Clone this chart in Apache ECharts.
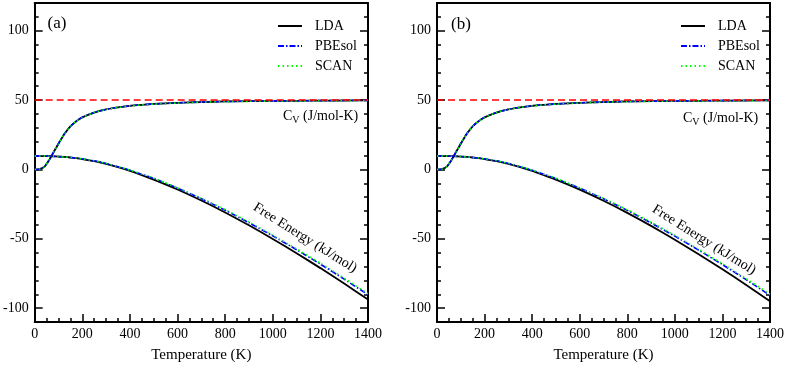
<!DOCTYPE html>
<html>
<head>
<meta charset="utf-8">
<script src="https://cdn.jsdelivr.net/npm/echarts@6/dist/echarts.min.js"></script>
<style>
  html, body { margin: 0; padding: 0; background: #fff; }
  #chart { width: 789px; height: 371px; }
</style>
</head>
<body>
<div id="chart"></div>
<script>
/* Cv and free energy vs temperature, panels (a) and (b) */
var temps = [0, 20, 40, 60, 80, 100, 125, 150, 175, 200, 250, 300, 350, 400, 450, 500,
             600, 700, 800, 900, 1000, 1100, 1200, 1300, 1400];

var cvLDA    = [0, 0.2, 1.8, 6.5, 12.5, 18.5, 25.5, 31.0, 34.8, 37.5, 41.0, 43.3, 44.8, 45.9, 46.6, 47.2,
                48.0, 48.6, 49.0, 49.2, 49.4, 49.5, 49.6, 49.7, 49.8];
var cvPBEsol = [0, 0.2, 1.9, 6.7, 12.7, 18.7, 25.7, 31.1, 34.9, 37.6, 41.1, 43.3, 44.8, 45.9, 46.6, 47.2,
                48.0, 48.6, 49.0, 49.2, 49.4, 49.5, 49.6, 49.7, 49.8];
var cvSCAN   = [0, 0.2, 1.9, 6.6, 12.6, 18.6, 25.6, 31.0, 34.8, 37.5, 41.0, 43.2, 44.7, 45.8, 46.5, 47.1,
                47.9, 48.5, 48.9, 49.1, 49.3, 49.4, 49.5, 49.6, 49.7];

var feLDA_a    = [9.6, 9.6, 9.6, 9.55, 9.45, 9.3, 9.0, 8.6, 8.1, 7.5, 6.0, 4.0, 1.6, -1.1, -4.1, -7.3,
                  -14.45, -22.4, -31.0, -40.3, -50.1, -60.4, -71.15, -82.3, -93.85];
var fePBEsol_a = [9.6, 9.6, 9.6, 9.55, 9.45, 9.3, 9.0, 8.65, 8.15, 7.6, 6.2, 4.3, 2.0, -0.6, -3.5, -6.5,
                  -13.45, -21.1, -29.4, -38.4, -47.9, -57.9, -68.25, -79.1, -90.35];
var feSCAN_a   = [9.6, 9.6, 9.6, 9.55, 9.45, 9.3, 9.0, 8.65, 8.2, 7.65, 6.3, 4.4, 2.1, -0.5, -3.35, -6.35,
                  -13.2, -20.8, -29.0, -37.9, -47.4, -57.3, -67.6, -78.4, -89.6];

var feLDA_b    = [9.6, 9.6, 9.6, 9.55, 9.45, 9.3, 9.0, 8.6, 8.1, 7.5, 6.0, 4.0, 1.6, -1.1, -4.2, -7.4,
                  -14.6, -22.6, -31.3, -40.7, -50.7, -61.1, -72.0, -83.3, -95.0];
var fePBEsol_b = [9.6, 9.6, 9.6, 9.55, 9.45, 9.3, 9.0, 8.65, 8.15, 7.6, 6.2, 4.3, 2.0, -0.6, -3.5, -6.6,
                  -13.5, -21.2, -29.5, -38.6, -48.1, -58.2, -68.6, -79.5, -90.8];
var feSCAN_b   = [9.6, 9.6, 9.6, 9.55, 9.45, 9.3, 9.0, 8.65, 8.2, 7.65, 6.3, 4.4, 2.1, -0.5, -3.4, -6.4,
                  -13.3, -20.9, -29.1, -38.1, -47.6, -57.6, -68.0, -78.8, -90.0];

var cvLimit = 50;
var xMajor = [0, 200, 400, 600, 800, 1000, 1200, 1400];
var yMajor = [-100, -50, 0, 50, 100];

var chart = echarts.init(document.getElementById('chart'), null, { renderer: 'canvas' });

var FONT = 'Liberation Serif';
var black = '#000';

function pairs(ys) {
  return temps.map(function (t, i) { return [t, ys[i]]; });
}
function plain(v) { return String(v); }

var grids = [
  { left: 34, top: 3, width: 334, height: 319 },
  { left: 437, top: 3, width: 333, height: 319 }
];

var xAxes = [], yAxes = [];
grids.forEach(function (g, gi) {
  var axLine = { show: true, onZero: false, lineStyle: { color: black, width: 2 } };
  var noLine = { show: false, onZero: false };
  // bottom, minor ticks + labels
  xAxes.push({
    type: 'value', gridIndex: gi, min: 0, max: 1400, interval: 50, position: 'bottom',
    axisLine: axLine, splitLine: { show: false },
    axisTick: { inside: true, length: 4, lineStyle: { color: black, width: 1.5 } },
    axisLabel: { customValues: xMajor, formatter: plain, margin: 5, color: black, fontFamily: FONT, fontSize: 14 },
    name: 'Temperature (K)', nameLocation: 'middle', nameGap: 26,
    nameTextStyle: { color: black, fontFamily: FONT, fontSize: 15 }
  });
  // bottom, major ticks
  xAxes.push({
    type: 'value', gridIndex: gi, min: 0, max: 1400, position: 'bottom',
    axisLine: noLine, splitLine: { show: false }, axisLabel: { show: false },
    axisTick: { inside: true, length: 8, customValues: xMajor, lineStyle: { color: black, width: 1.5 } }
  });
  // top frame
  xAxes.push({
    type: 'value', gridIndex: gi, min: 0, max: 1400, position: 'top',
    axisLine: axLine, splitLine: { show: false }, axisLabel: { show: false }, axisTick: { show: false }
  });

  ['left', 'right'].forEach(function (pos) {
    yAxes.push({
      type: 'value', gridIndex: gi, min: -110, max: 120, interval: 10, position: pos,
      axisLine: axLine, splitLine: { show: false },
      axisTick: { inside: true, length: 4, lineStyle: { color: black, width: 1.5 } },
      axisLabel: pos === 'left'
        ? { customValues: yMajor, formatter: plain, margin: 6, color: black, fontFamily: FONT, fontSize: 14 }
        : { show: false }
    });
    yAxes.push({
      type: 'value', gridIndex: gi, min: -110, max: 120, position: pos,
      axisLine: noLine, splitLine: { show: false }, axisLabel: { show: false },
      axisTick: { inside: true, length: 8, customValues: yMajor, lineStyle: { color: black, width: 1.5 } }
    });
  });
});

var styles = {
  LDA:    { color: '#000000', type: 'solid', width: 1.8 },
  PBEsol: { color: '#0000ff', type: [6, 2, 1.5, 2], width: 1.6 },
  SCAN:   { color: '#00ff00', type: [1.5, 3], width: 1.6 }
};

var series = [];
function addLine(name, ys, gi, extra) {
  var s = {
    type: 'line', name: name, xAxisIndex: gi * 3, yAxisIndex: gi * 4,
    data: pairs(ys), symbol: 'none', smooth: 0.2, silent: true, animation: false,
    lineStyle: styles[name], itemStyle: { color: styles[name].color }
  };
  if (extra) Object.keys(extra).forEach(function (k) { s[k] = extra[k]; });
  series.push(s);
}

[
  [feLDA_a, fePBEsol_a, feSCAN_a],
  [feLDA_b, fePBEsol_b, feSCAN_b]
].forEach(function (fe, gi) {
  addLine('LDA', cvLDA, gi, {
    markLine: {
      silent: true, symbol: 'none', label: { show: false }, animation: false,
      lineStyle: { color: '#ff0000', type: [7, 4], width: 1.6 },
      data: [{ yAxis: cvLimit }]
    }
  });
  addLine('PBEsol', cvPBEsol, gi);
  addLine('SCAN', cvSCAN, gi);
  addLine('LDA', fe[0], gi);
  addLine('PBEsol', fe[1], gi);
  addLine('SCAN', fe[2], gi);
});

function legendAt(left) {
  return {
    left: left, top: 14, orient: 'vertical', itemWidth: 24, itemHeight: 14, itemGap: 6,
    selectedMode: false, data: ['LDA', 'PBEsol', 'SCAN'],
    itemStyle: { opacity: 0 },
    textStyle: { color: black, fontFamily: FONT, fontSize: 14, padding: [0, 0, 0, 8] }
  };
}

var cvRich = {
  c: { fontFamily: FONT, fontSize: 14, fill: black },
  s: { fontFamily: FONT, fontSize: 10, fill: black, padding: [9, 0, 0, 0] }
};

function textEl(x, y, text, size, extra) {
  var el = {
    type: 'text', x: x, y: y, silent: true,
    style: { text: text, fontFamily: FONT, fontSize: size, fill: black, align: 'center', verticalAlign: 'middle' }
  };
  if (extra) Object.keys(extra).forEach(function (k) { el[k] = extra[k]; });
  return el;
}

var graphics = [
  textEl(57, 24, '(a)', 17),
  textEl(461, 25, '(b)', 17),
  { type: 'text', x: 283, y: 116, silent: true,
    style: { text: '{c|C}{s|V}{c| (J/mol-K)}', rich: cvRich, verticalAlign: 'middle' } },
  { type: 'text', x: 683, y: 118, silent: true,
    style: { text: '{c|C}{s|V}{c| (J/mol-K)}', rich: cvRich, verticalAlign: 'middle' } },
  textEl(305, 238, 'Free Energy (kJ/mol)', 14, { rotation: -0.56 }),
  textEl(704, 240, 'Free Energy (kJ/mol)', 14, { rotation: -0.56 })
];

chart.setOption({
  animation: false,
  grid: grids,
  xAxis: xAxes,
  yAxis: yAxes,
  legend: [legendAt(272), legendAt(675)],
  series: series,
  graphic: graphics
});
window.addEventListener('resize', function () { chart.resize(); });
</script>
</body>
</html>
